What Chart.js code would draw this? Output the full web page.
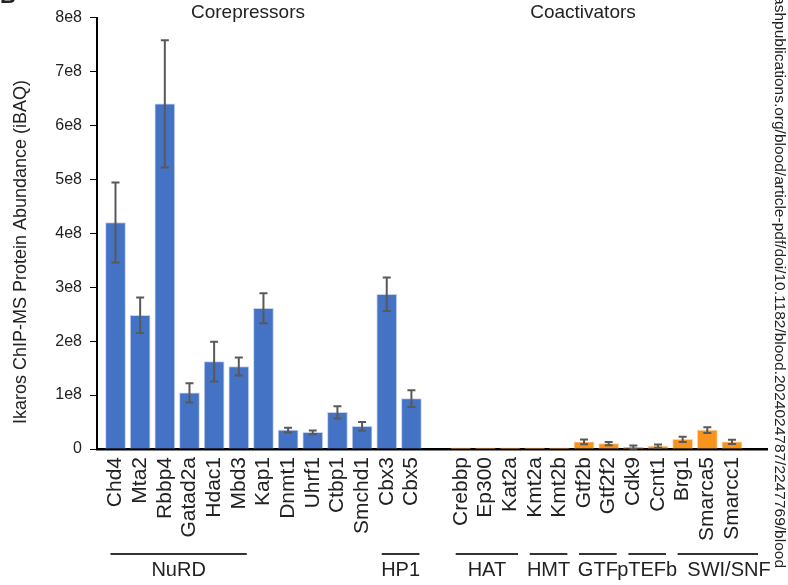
<!DOCTYPE html>
<html>
<head>
<meta charset="utf-8">
<title>Ikaros ChIP-MS</title>
<script src="https://cdn.jsdelivr.net/npm/chart.js@4.4.1/dist/chart.umd.min.js"></script>
<style>
html, body { margin: 0; padding: 0; background: #fff; }
#wrap { width: 788px; height: 585px; }
</style>
</head>
<body>
<div id="wrap"><canvas id="ikarosChart" width="788" height="585"></canvas></div>
<script>
// protein names, corepressors then coactivators
var corepressors = ['Chd4', 'Mta2', 'Rbbp4', 'Gatad2a', 'Hdac1', 'Mbd3', 'Kap1', 'Dnmt1', 'Uhrf1', 'Ctbp1', 'Smchd1', 'Cbx3', 'Cbx5'];
var coactivators = ['Crebbp', 'Ep300', 'Kat2a', 'Kmt2a', 'Kmt2b', 'Gtf2b', 'Gtf2f2', 'Cdk9', 'Ccnt1', 'Brg1', 'Smarca5', 'Smarcc1'];

// iBAQ means and error
var corepressorMeans = [4.20e8, 2.48e8, 6.40e8, 1.04e8, 1.62e8, 1.53e8, 2.61e8, 0.35e8, 0.31e8, 0.68e8, 0.42e8, 2.87e8, 0.935e8];
var corepressorErr   = [0.74e8, 0.33e8, 1.18e8, 0.18e8, 0.37e8, 0.165e8, 0.28e8, 0.045e8, 0.035e8, 0.115e8, 0.08e8, 0.31e8, 0.155e8];
var coactivatorMeans = [0.02e8, 0.02e8, 0.02e8, 0.02e8, 0.02e8, 0.133e8, 0.10e8, 0.036e8, 0.055e8, 0.18e8, 0.35e8, 0.133e8];
var coactivatorErr   = [0, 0, 0, 0, 0, 0.045e8, 0.03e8, 0.03e8, 0.03e8, 0.048e8, 0.055e8, 0.04e8];

var yTickLabels = ['0', '1e8', '2e8', '3e8', '4e8', '5e8', '6e8', '7e8', '8e8'];

// complex groups: name, first and last protein
var groups = [
    { name: 'NuRD', first: 'Chd4', last: 'Mbd3' },
    { name: 'HP1', first: 'Cbx3', last: 'Cbx5' },
    { name: 'HAT', first: 'Crebbp', last: 'Kat2a' },
    { name: 'HMT', first: 'Kmt2a', last: 'Kmt2b' },
    { name: 'GTF', first: 'Gtf2b', last: 'Gtf2f2' },
    { name: 'pTEFb', first: 'Cdk9', last: 'Ccnt1' },
    { name: 'SWI/SNF', first: 'Brg1', last: 'Smarcc1' }
];

var blue = 'rgb(68, 114, 196)';
var orange = 'rgb(247, 148, 29)';
var fontFamily = '"Liberation Sans", Arial, sans-serif';

// one empty slot between the two families
var labels = corepressors.concat([''], coactivators);
var means = corepressorMeans.concat([null], coactivatorMeans);
var errs = corepressorErr.concat([null], coactivatorErr);

var points = [];
var fills = [];
var edges = [];
var pointErr = [];
for (var i = 0; i < labels.length; i++) {
    if (means[i] === null) continue;
    points.push({ x: i, y: means[i] });
    pointErr.push(errs[i]);
    var isCorep = i < corepressors.length;
    fills.push(isCorep ? blue : orange);
    edges.push(isCorep ? 'rgba(190, 205, 235, 0.9)' : 'rgba(252, 210, 160, 0.95)');
}

var errorBars = {
    id: 'errorBars',
    afterDatasetsDraw: function (chart) {
        var xs = chart.scales.x, ys = chart.scales.y, ctx = chart.ctx;
        ctx.save();
        ctx.strokeStyle = '#595959';
        ctx.lineWidth = 2;
        points.forEach(function (p, k) {
            var e = pointErr[k];
            if (!e) return;
            var x = xs.getPixelForValue(p.x);
            var yTop = ys.getPixelForValue(p.y + e);
            var yBot = ys.getPixelForValue(p.y - e);
            ctx.beginPath();
            ctx.moveTo(x, yTop); ctx.lineTo(x, yBot);
            ctx.moveTo(x - 4, yTop); ctx.lineTo(x + 4, yTop);
            ctx.moveTo(x - 4, yBot); ctx.lineTo(x + 4, yBot);
            ctx.stroke();
        });
        ctx.restore();
    }
};

var annotations = {
    id: 'annotations',
    afterDraw: function (chart) {
        var xs = chart.scales.x, ctx = chart.ctx, area = chart.chartArea;
        ctx.save();
        ctx.fillStyle = '#222';

        // panel letter, mostly cropped
        ctx.font = 'bold 22px ' + fontFamily;
        ctx.textAlign = 'left';
        ctx.textBaseline = 'alphabetic';
        ctx.fillText('B', 0, 3);

        // family titles
        ctx.font = '19px ' + fontFamily;
        ctx.textAlign = 'center';
        ctx.textBaseline = 'middle';
        ctx.fillText('Corepressors', 248, 13);
        ctx.fillText('Coactivators', 583, 13);

        // y axis title
        ctx.save();
        ctx.translate(21, 252);
        ctx.rotate(-Math.PI / 2);
        ctx.font = '18px ' + fontFamily;
        ctx.fillText('Ikaros ChIP-MS Protein Abundance (iBAQ)', 0, 0);
        ctx.restore();

        // complex brackets
        ctx.strokeStyle = '#333';
        ctx.lineWidth = 2;
        ctx.font = '20px ' + fontFamily;
        ctx.textBaseline = 'alphabetic';
        groups.forEach(function (g, k) {
            var x0 = xs.getPixelForValue(labels.indexOf(g.first)) - 5;
            var x1 = xs.getPixelForValue(labels.indexOf(g.last)) + 8;
            var tx = (x0 + x1) / 2;
            if (k === groups.length - 1) {
                x1 = area.right - 9;
                tx = x1 - 29;
            }
            ctx.beginPath();
            ctx.moveTo(x0, 554);
            ctx.lineTo(x1, 554);
            ctx.stroke();
            ctx.fillText(g.name, tx, 576);
        });

        // source stamp along the right edge
        ctx.save();
        ctx.translate(779, 568);
        ctx.rotate(Math.PI / 2);
        ctx.font = '15.5px ' + fontFamily;
        ctx.textAlign = 'right';
        ctx.textBaseline = 'middle';
        ctx.fillText('ashpublications.org/blood/article-pdf/doi/10.1182/blood.2024024787/2247769/blood', 0, 0);
        ctx.restore();

        ctx.restore();
    }
};

var ctx = document.getElementById('ikarosChart').getContext('2d');

var chart = new Chart(ctx, {
    type: 'bar',
    data: {
        datasets: [{
            data: points,
            backgroundColor: fills,
            borderColor: edges,
            borderWidth: 1,
            barThickness: 20
        }]
    },
    options: {
        responsive: false,
        animation: false,
        layout: { padding: { top: 10, right: 21, left: 0, bottom: 0 } },
        plugins: {
            legend: { display: false },
            tooltip: { enabled: false }
        },
        scales: {
            x: {
                type: 'linear',
                offset: false,
                min: -0.75,
                max: 26.42,
                afterBuildTicks: function (scale) {
                    scale.ticks = labels.map(function (l, i) { return { value: i }; });
                },
                afterFit: function (scale) { scale.height = 136; },
                grid: { display: false, drawTicks: false },
                border: { display: true, color: '#000', width: 2.5 },
                ticks: {
                    autoSkip: false,
                    minRotation: 90,
                    maxRotation: 90,
                    padding: 8,
                    color: '#222',
                    font: { family: fontFamily, size: 21 },
                    callback: function (value) { return labels[value] || ''; }
                }
            },
            y: {
                min: 0,
                max: 8e8,
                afterFit: function (scale) { scale.width = 97; },
                grid: { drawOnChartArea: false, tickLength: 7, color: '#000', lineWidth: 1 },
                border: { display: true, color: '#000', width: 2 },
                ticks: {
                    stepSize: 1e8,
                    padding: 8,
                    color: '#222',
                    font: { family: fontFamily, size: 16 },
                    callback: function (value, index) { return yTickLabels[index]; }
                }
            }
        }
    },
    plugins: [errorBars, annotations]
});
</script>
</body>
</html>
